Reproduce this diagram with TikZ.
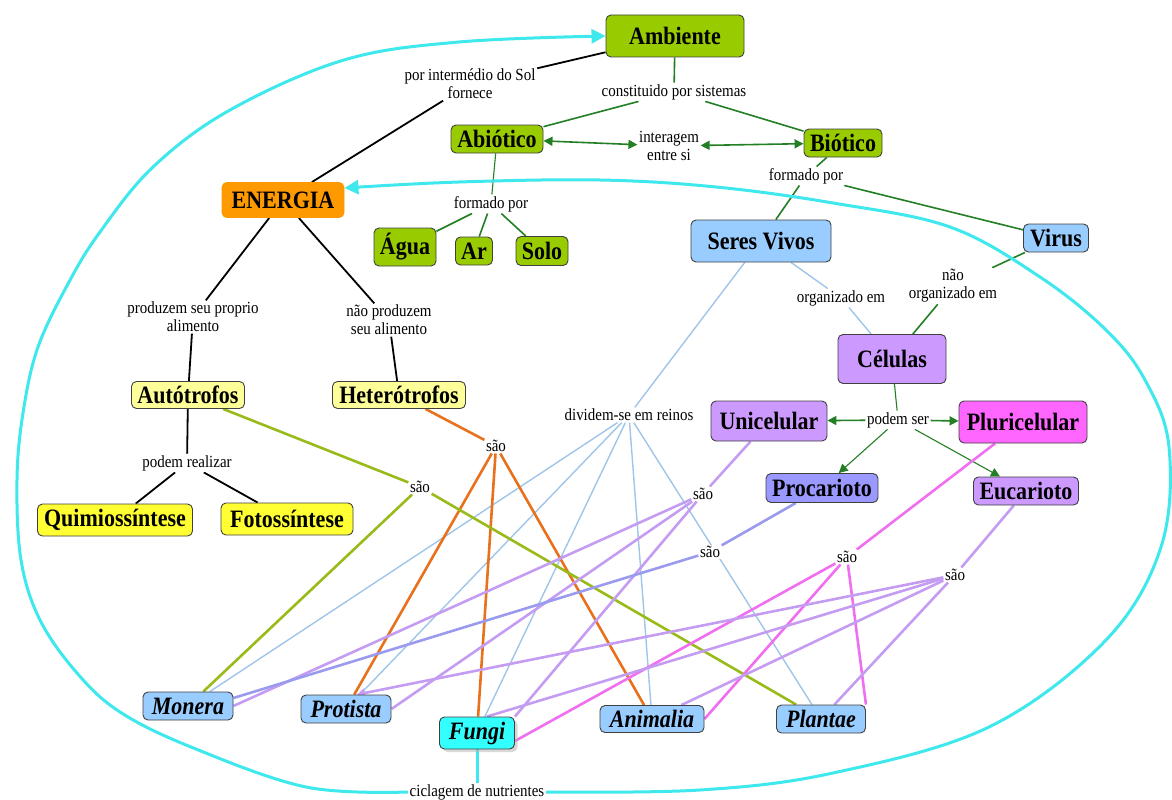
\documentclass[tikz,border=0pt]{standalone}
\usepackage{fontspec}
\setmainfont{Liberation Serif}
\newfontfamily\cfont[FakeStretch=0.88]{Liberation Serif}
\usetikzlibrary{arrows.meta,shadows}
\pgfdeclarelayer{bg}
\pgfsetlayers{bg,main}
\definecolor{cgreen}{HTML}{99CC00}
\definecolor{corange}{HTML}{FF9900}
\definecolor{lblueN}{HTML}{99CCFF}
\definecolor{purN}{HTML}{CC99FF}
\definecolor{magN}{HTML}{FF66FF}
\definecolor{bpurN}{HTML}{9999FF}
\definecolor{pyel}{HTML}{FFFF99}
\definecolor{yel}{HTML}{FFFF33}
\definecolor{cyanN}{HTML}{33FFFF}
\definecolor{dgreen}{HTML}{237F23}
\definecolor{lblueL}{HTML}{9FC5E8}
\definecolor{orangeL}{HTML}{E8711E}
\definecolor{ygreenL}{HTML}{99BB1A}
\definecolor{purL}{HTML}{C49CF2}
\definecolor{bpurL}{HTML}{9A9AEE}
\definecolor{magL}{HTML}{F06EF0}
\definecolor{cyanL}{HTML}{3EE8EC}
\begin{document}
\begin{tikzpicture}[x=1pt,y=-1pt,
  concept/.style={draw=black!75, line width=0.9pt, rounded corners=5pt, inner sep=0pt, align=center,
    font=\cfont\bfseries\fontsize{25}{27}\selectfont},
  reino/.style={concept, fill=lblueN, font=\cfont\bfseries\itshape\fontsize{25}{27}\selectfont},
  sz/.style 2 args={minimum width=#1, minimum height=#2},
  lbl/.style={inner sep=1.5pt, align=center, fill=white, font=\cfont\fontsize{17}{18}\selectfont},
  blk/.style={draw=black, line width=1.8pt},
  grn/.style={draw=dgreen, line width=1.6pt},
  tgrn/.style={draw=dgreen, line width=1.1pt},
  lb/.style={draw=lblueL, line width=1.4pt},
  org/.style={draw=orangeL, line width=2.6pt},
  ygl/.style={draw=ygreenL, line width=2.6pt},
  pur/.style={draw=purL, line width=2.6pt},
  bpu/.style={draw=bpurL, line width=2.6pt},
  mag/.style={draw=magL, line width=2.6pt},
  cyl/.style={draw=cyanL, line width=3pt},
  garrow/.style={-{Triangle[length=9pt,width=9pt]}},
  gdarrow/.style={{Triangle[length=9pt,width=9pt]}-{Triangle[length=9pt,width=9pt]}}
]
\useasboundingbox (0,0) rectangle (1172,800);

% concepts
\node[concept, fill=cgreen, sz={138pt}{42pt}] (amb) at (675,36) {Ambiente};
\node[concept, fill=cgreen, sz={92pt}{28pt}] (abio) at (497,139) {Abiótico};
\node[concept, fill=cgreen, sz={78pt}{28pt}] (bio) at (843,143) {Biótico};
\node[concept, fill=corange, draw=corange, sz={122pt}{35pt}] (energia) at (283,200) {ENERGIA};
\node[concept, fill=cgreen, sz={62pt}{38pt}] (agua) at (405,247) {Água};
\node[concept, fill=cgreen, sz={37pt}{28pt}] (ar) at (474,251) {Ar};
\node[concept, fill=cgreen, sz={52pt}{29pt}] (solo) at (542,251) {Solo};
\node[concept, fill=lblueN, sz={140pt}{42pt}] (seres) at (761,241) {Seres Vivos};
\node[concept, fill=lblueN, sz={65pt}{28pt}] (virus) at (1056,238) {Virus};
\node[concept, fill=purN, sz={108pt}{49pt}] (celulas) at (892,359) {Células};
\node[concept, fill=purN, sz={116pt}{40pt}] (unicel) at (769,421) {Unicelular};
\node[concept, fill=magN, sz={128pt}{42pt}] (pluricel) at (1023,422) {Pluricelular};
\node[concept, fill=bpurN, sz={112pt}{29pt}] (procar) at (822,488) {Procarioto};
\node[concept, fill=purN, sz={105pt}{28pt}] (eucar) at (1026,491) {Eucarioto};
\node[concept, fill=pyel, sz={113pt}{27pt}] (auto) at (188,395) {Autótrofos};
\node[concept, fill=pyel, sz={133pt}{27pt}] (hetero) at (399,395) {Heterótrofos};
\node[concept, fill=yel, sz={155pt}{32pt}] (quimio) at (115,520) {Quimiossíntese};
\node[concept, fill=yel, sz={132pt}{32pt}] (foto) at (287,519) {Fotossíntese};
\node[reino, sz={90pt}{28pt}] (monera) at (188,706) {Monera};
\node[reino, sz={90pt}{28pt}] (protista) at (346,709) {Protista};
\node[reino, fill=cyanN, sz={75pt}{32pt}, drop shadow={shadow xshift=3pt, shadow yshift=-3pt, fill=black!30}] (fungi) at (477,733) {Fungi};
\node[reino, sz={104pt}{27pt}] (animalia) at (652,719) {Animalia};
\node[reino, sz={89pt}{28pt}] (plantae) at (821,719) {Plantae};

% linking phrases
\node[lbl] (lsol) at (470,84) {por intermédio do Sol\\fornece};
\node[lbl] (lconst) at (674,92) {constituido por sistemas};
\node[lbl] (linter) at (669,146) {interagem\\entre si};
\node[lbl] (lform1) at (491,204) {formado por};
\node[lbl] (lform2) at (806,176) {formado por};
\node[lbl] (lorg) at (841,298) {organizado em};
\node[lbl] (lnorg) at (953,286) {não\\organizado em};
\node[lbl] (lprod) at (193,317) {produzem seu proprio\\alimento};
\node[lbl] (lnprod) at (389,320) {não produzem\\seu alimento};
\node[lbl] (lpodreal) at (187,463) {podem realizar};
\node[lbl] (lsaoH) at (496,446) {são};
\node[lbl] (lsaoA) at (420,487) {são};
\node[lbl] (ldiv) at (629,415) {dividem-se em reinos};
\node[lbl] (lpodser) at (898,420) {podem ser};
\node[lbl] (lsaoU) at (703,494) {são};
\node[lbl] (lsaoP) at (710,552) {são};
\node[lbl] (lsaoPl) at (847,557) {são};
\node[lbl] (lsaoE) at (955,575) {são};
\node[lbl] (lcicl) at (477,792) {ciclagem de nutrientes};

\begin{pgfonlayer}{bg}
% black
\draw[blk] (amb) -- (lsol);
\draw[blk] (lsol) -- (energia);
\draw[blk] (energia) -- (lprod);
\draw[blk] (lprod) -- (auto);
\draw[blk] (energia) -- (lnprod);
\draw[blk] (lnprod) -- (hetero);
\draw[blk] (auto) -- (lpodreal);
\draw[blk] (lpodreal) -- (quimio);
\draw[blk] (lpodreal) -- (foto);
% green
\draw[grn] (amb) -- (lconst);
\draw[grn] (lconst) -- (abio);
\draw[grn] (lconst) -- (bio);
\draw[grn, gdarrow] (abio) -- (linter);
\draw[grn, gdarrow] (linter) -- (bio);
\draw[tgrn] (abio) -- (lform1);
\draw[grn] (lform1) -- (agua);
\draw[grn] (lform1) -- (ar);
\draw[grn] (lform1) -- (solo);
\draw[grn] (bio) -- (lform2);
\draw[grn] (lform2) -- (seres);
\draw[grn] (lform2) -- (virus);
\draw[grn] (virus) -- (lnorg);
\draw[grn] (lnorg) -- (celulas);
\draw[tgrn] (celulas) -- (lpodser);
\draw[grn, garrow] (lpodser) -- (unicel);
\draw[grn, garrow] (lpodser) -- (pluricel);
\draw[tgrn, garrow] (lpodser) -- (procar);
\draw[tgrn, garrow] (lpodser) -- (eucar);
% light blue
\draw[lb] (seres) -- (lorg);
\draw[lb] (lorg) -- (celulas);
\draw[lb] (seres) -- (ldiv);
\draw[lb] (ldiv) -- (monera);
\draw[lb] (ldiv) -- (protista);
\draw[lb] (ldiv) -- (fungi);
\draw[lb] (ldiv) -- (animalia);
\draw[lb] (ldiv) -- (plantae);
% orange
\draw[org] (hetero) -- (lsaoH);
\draw[org] (lsaoH) -- (protista);
\draw[org] (lsaoH) -- (fungi);
\draw[org] (lsaoH) -- (animalia);
% yellow green
\draw[ygl] (auto) -- (lsaoA);
\draw[ygl] (lsaoA) -- (monera);
\draw[ygl] (lsaoA) -- (plantae);
% purple (unicelular)
\draw[pur] (unicel) -- (lsaoU);
\draw[pur] (lsaoU) -- (monera.east);
\draw[pur] (lsaoU) -- (protista.east);
\draw[pur] (lsaoU) -- (fungi.north east);
% blue purple (procarioto)
\draw[bpu] (procar) -- (lsaoP);
\draw[bpu] (lsaoP) -- ([yshift=8pt]monera.east);
% magenta (pluricelular)
\draw[mag] (pluricel) -- (lsaoPl);
\draw[mag] (lsaoPl) -- ([yshift=-8pt]fungi.east);
\draw[mag] (lsaoPl) -- (animalia.east);
\draw[mag] (lsaoPl) -- (plantae.north east);
% purple (eucarioto)
\draw[pur] (eucar) -- (lsaoE);
\draw[pur, -{Triangle[length=8pt,width=9pt]}] (lsaoE) -- ([xshift=11pt]protista.north);
\draw[pur] (lsaoE) -- ([xshift=10pt]fungi.north);
\draw[pur] (lsaoE) -- (animalia);
\draw[pur] (lsaoE) -- (plantae);
% cyan
\draw[cyl] (fungi) -- (lcicl);
\draw[cyl, -{Triangle[length=14pt,width=14pt]}] plot[smooth, tension=0.6] coordinates {(lcicl.west) (306,787) (191,747) (120,712) (77,673) (40,620) (21,560) (17,480) (23,413) (38,347) (69,282) (100,232) (153,167) (230,110) (344,60) (459,42) (amb.west)};
\draw[cyl, -{Triangle[length=14pt,width=14pt]}] plot[smooth, tension=0.6] coordinates {(lcicl.east) (700,790) (833,773) (989,727) (1106,640) (1161,547) (1169,447) (1145,380) (1106,330) (1040,277) (950,227) (833,203) (716,187) (600,180) (459,182) ([yshift=12pt]energia.east)};
\end{pgfonlayer}
\end{tikzpicture}
\end{document}
